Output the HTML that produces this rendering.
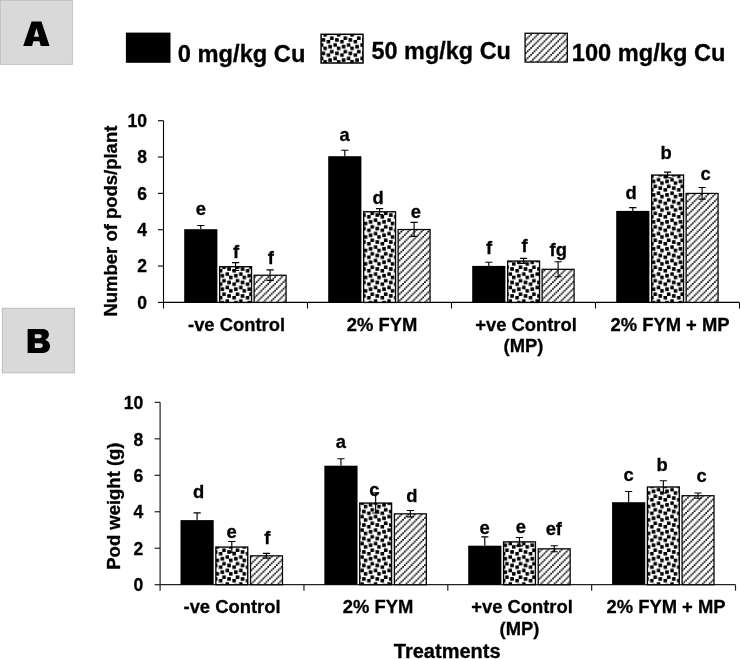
<!DOCTYPE html>
<html><head><meta charset="utf-8"><title>Figure</title>
<style>
html,body{margin:0;padding:0;background:#fff;}
body{width:740px;height:659px;overflow:hidden;}
svg{display:block;will-change:transform;}
text{font-family:"Liberation Sans",sans-serif;font-weight:bold;fill:#000;stroke:#000;stroke-width:0.3px;}
</style></head><body>
<svg width="740" height="659" viewBox="0 0 740 659">
<defs>
<pattern id="dots" patternUnits="userSpaceOnUse" x="0.0" y="-0.5" width="13.475" height="13.475"><rect width="13.475" height="13.475" fill="#fff"/><rect x="3.249" y="-0.120" width="3.609" height="3.609" fill="#000"/><rect x="9.986" y="3.249" width="3.609" height="3.609" fill="#000"/><rect x="4.933" y="4.933" width="3.609" height="3.609" fill="#000"/><rect x="-0.120" y="6.618" width="3.609" height="3.609" fill="#000"/><rect x="6.618" y="9.986" width="3.609" height="3.609" fill="#000"/><rect x="11.671" y="11.671" width="3.609" height="3.609" fill="#000"/><rect x="-1.804" y="11.671" width="3.609" height="3.609" fill="#000"/><rect x="11.671" y="-1.804" width="3.609" height="3.609" fill="#000"/><rect x="-1.804" y="-1.804" width="3.609" height="3.609" fill="#000"/></pattern>
<pattern id="hatch" patternUnits="userSpaceOnUse" x="6.36" y="0.0" width="6.738" height="6.738"><rect width="6.738" height="6.738" fill="#fff"/><rect x="0.000" y="5.053" width="1.684" height="1.684" fill="#000"/><rect x="1.684" y="3.369" width="1.684" height="1.684" fill="#000"/><rect x="3.369" y="1.684" width="1.684" height="1.684" fill="#000"/><rect x="5.053" y="0.000" width="1.684" height="1.684" fill="#000"/></pattern>
</defs>
<rect width="740" height="659" fill="#fff"/>
<rect x="0.4" y="0.4" width="72.0" height="64.0" fill="#d9d9d9" stroke="#bcbcbc" stroke-width="0.9"/>
<path d="M23.2,45.9 L31.6,21.6 L41.4,21.6 L49.6,45.9 L40.7,45.9 L39.5,41.3 L33.3,41.3 L32.1,45.9 Z M33.95,36.75 L39.05,36.75 L36.5,27.9 Z" fill="#000" fill-rule="evenodd"/>
<rect x="2.4" y="308.3" width="72" height="64.5" fill="#d9d9d9" stroke="#bcbcbc" stroke-width="1"/>
<path d="M27.6,329 H42.5 C46.5,329 48.9,331.2 48.9,334.6 C48.9,337.2 47.4,339 45,339.9 C48,340.6 50,342.8 50,346 C50,350.4 46.8,353.1 42,353.1 H27.6 Z M34.8,334.3 V338.3 H39.3 C40.9,338.3 41.7,337.5 41.7,336.3 C41.7,335 40.9,334.3 39.3,334.3 Z M34.8,343.3 V348 H40 C41.8,348 42.8,347.1 42.8,345.6 C42.8,344.1 41.8,343.3 40,343.3 Z" fill="#000" fill-rule="evenodd"/>
<rect x="125.9" y="32.6" width="44.6" height="30.2" fill="#000"/>
<rect x="321.1" y="34.3" width="41.9" height="28.7" fill="url(#dots)" stroke="#000" stroke-width="1.5"/>
<rect x="525.1" y="33.25" width="42.2" height="28.8" fill="url(#hatch)" stroke="#000" stroke-width="1.3"/>
<text transform="translate(177.80,62.00) scale(0.987,1)" font-size="24" text-anchor="start" >0 mg/kg Cu</text>
<text transform="translate(371.50,59.30) scale(0.977,1)" font-size="24" text-anchor="start" >50 mg/kg Cu</text>
<text transform="translate(571.80,60.70) scale(0.985,1)" font-size="24" text-anchor="start" >100 mg/kg Cu</text>
<path d="M163.50,120.70 V302.40 H739.50" stroke="#000" stroke-width="1.1" fill="none"/>
<path d="M158.00,302.40 H163.50" stroke="#000" stroke-width="1.1"/>
<text transform="translate(147.10,308.55) scale(0.94,1)" font-size="18.67" text-anchor="end" >0</text>
<path d="M158.00,266.06 H163.50" stroke="#000" stroke-width="1.1"/>
<text transform="translate(147.10,272.21) scale(0.94,1)" font-size="18.67" text-anchor="end" >2</text>
<path d="M158.00,229.72 H163.50" stroke="#000" stroke-width="1.1"/>
<text transform="translate(147.10,235.87) scale(0.94,1)" font-size="18.67" text-anchor="end" >4</text>
<path d="M158.00,193.38 H163.50" stroke="#000" stroke-width="1.1"/>
<text transform="translate(147.10,199.53) scale(0.94,1)" font-size="18.67" text-anchor="end" >6</text>
<path d="M158.00,157.04 H163.50" stroke="#000" stroke-width="1.1"/>
<text transform="translate(147.10,163.19) scale(0.94,1)" font-size="18.67" text-anchor="end" >8</text>
<path d="M158.00,120.70 H163.50" stroke="#000" stroke-width="1.1"/>
<text transform="translate(147.10,126.85) scale(0.94,1)" font-size="18.67" text-anchor="end" >10</text>
<path d="M163.50,302.40 V308.40" stroke="#000" stroke-width="1.1"/>
<path d="M307.50,302.40 V308.40" stroke="#000" stroke-width="1.1"/>
<path d="M451.50,302.40 V308.40" stroke="#000" stroke-width="1.1"/>
<path d="M595.50,302.40 V308.40" stroke="#000" stroke-width="1.1"/>
<path d="M739.50,302.40 V308.40" stroke="#000" stroke-width="1.1"/>
<rect x="184.20" y="229.20" width="33.2" height="73.20" fill="#000"/>
<path d="M200.80,225.50 V229.20 M197.20,225.50 H204.40" stroke="#000" stroke-width="1.15" fill="none"/>
<text transform="translate(200.80,214.90) scale(0.985,1)" font-size="18.67" text-anchor="middle" >e</text>
<rect x="219.68" y="266.73" width="31.85" height="35.67" fill="url(#dots)" stroke="#000" stroke-width="1.35"/>
<path d="M235.60,262.60 V270.50 M232.00,262.60 H239.20 M232.00,270.50 H239.20" stroke="#000" stroke-width="1.15" fill="none"/>
<text transform="translate(236.10,258.00) scale(0.985,1)" font-size="18.67" text-anchor="middle" >f</text>
<rect x="254.12" y="275.23" width="31.95" height="27.17" fill="url(#hatch)" stroke="#000" stroke-width="1.25"/>
<path d="M270.10,269.90 V280.30 M266.50,269.90 H273.70 M266.50,280.30 H273.70" stroke="#000" stroke-width="1.15" fill="none"/>
<text transform="translate(270.75,264.00) scale(0.985,1)" font-size="18.67" text-anchor="middle" >f</text>
<rect x="328.20" y="156.20" width="33.2" height="146.20" fill="#000"/>
<path d="M344.80,150.20 V156.20 M341.20,150.20 H348.40" stroke="#000" stroke-width="1.15" fill="none"/>
<text transform="translate(344.60,141.10) scale(0.985,1)" font-size="18.67" text-anchor="middle" >a</text>
<rect x="363.68" y="211.78" width="31.85" height="90.62" fill="url(#dots)" stroke="#000" stroke-width="1.35"/>
<path d="M379.60,208.60 V214.60 M376.00,208.60 H383.20 M376.00,214.60 H383.20" stroke="#000" stroke-width="1.15" fill="none"/>
<text transform="translate(378.20,203.60) scale(0.985,1)" font-size="18.67" text-anchor="middle" >d</text>
<rect x="398.12" y="229.53" width="31.95" height="72.87" fill="url(#hatch)" stroke="#000" stroke-width="1.25"/>
<path d="M414.10,222.40 V236.40 M410.50,222.40 H417.70 M410.50,236.40 H417.70" stroke="#000" stroke-width="1.15" fill="none"/>
<text transform="translate(415.80,218.00) scale(0.985,1)" font-size="18.67" text-anchor="middle" >e</text>
<rect x="472.20" y="265.90" width="33.2" height="36.50" fill="#000"/>
<path d="M488.80,262.20 V265.90 M485.20,262.20 H492.40" stroke="#000" stroke-width="1.15" fill="none"/>
<text transform="translate(489.00,254.00) scale(0.985,1)" font-size="18.67" text-anchor="middle" >f</text>
<rect x="507.68" y="261.07" width="31.85" height="41.33" fill="url(#dots)" stroke="#000" stroke-width="1.35"/>
<path d="M523.60,258.40 V263.40 M520.00,258.40 H527.20 M520.00,263.40 H527.20" stroke="#000" stroke-width="1.15" fill="none"/>
<text transform="translate(524.60,252.20) scale(0.985,1)" font-size="18.67" text-anchor="middle" >f</text>
<rect x="542.12" y="269.32" width="31.95" height="33.07" fill="url(#hatch)" stroke="#000" stroke-width="1.25"/>
<path d="M558.10,261.70 V276.70 M554.50,261.70 H561.70 M554.50,276.70 H561.70" stroke="#000" stroke-width="1.15" fill="none"/>
<text transform="translate(558.20,255.60) scale(0.985,1)" font-size="18.67" text-anchor="middle" >fg</text>
<rect x="616.20" y="210.90" width="33.2" height="91.50" fill="#000"/>
<path d="M632.80,207.60 V210.90 M629.20,207.60 H636.40" stroke="#000" stroke-width="1.15" fill="none"/>
<text transform="translate(631.00,198.70) scale(0.985,1)" font-size="18.67" text-anchor="middle" >d</text>
<rect x="651.67" y="175.08" width="31.85" height="127.32" fill="url(#dots)" stroke="#000" stroke-width="1.35"/>
<path d="M667.60,172.10 V177.70 M664.00,172.10 H671.20 M664.00,177.70 H671.20" stroke="#000" stroke-width="1.15" fill="none"/>
<text transform="translate(666.20,159.00) scale(0.985,1)" font-size="18.67" text-anchor="middle" >b</text>
<rect x="686.12" y="193.43" width="31.95" height="108.97" fill="url(#hatch)" stroke="#000" stroke-width="1.25"/>
<path d="M702.10,187.50 V199.10 M698.50,187.50 H705.70 M698.50,199.10 H705.70" stroke="#000" stroke-width="1.15" fill="none"/>
<text transform="translate(705.70,180.10) scale(0.985,1)" font-size="18.67" text-anchor="middle" >c</text>
<text transform="translate(117.00,221.10) rotate(-90) scale(0.99,1)" font-size="18.67" text-anchor="middle">Number of pods/plant</text>
<text transform="translate(236.50,330.60) scale(0.985,1)" font-size="18.67" text-anchor="middle" >-ve Control</text>
<text transform="translate(382.00,330.60) scale(0.985,1)" font-size="18.67" text-anchor="middle" >2% FYM</text>
<text transform="translate(526.00,330.60) scale(0.985,1)" font-size="18.67" text-anchor="middle" >+ve Control</text>
<text transform="translate(670.00,330.60) scale(0.985,1)" font-size="18.67" text-anchor="middle" >2% FYM + MP</text>
<text transform="translate(523.50,352.00) scale(0.985,1)" font-size="18.67" text-anchor="middle" >(MP)</text>
<path d="M160.10,402.35 V584.70 H735.50" stroke="#222" stroke-width="1.2" fill="none"/>
<path d="M154.60,584.70 H160.10" stroke="#222" stroke-width="1.2"/>
<text transform="translate(143.30,591.40) scale(0.94,1)" font-size="18.67" text-anchor="end" >0</text>
<path d="M154.60,548.23 H160.10" stroke="#222" stroke-width="1.2"/>
<text transform="translate(143.30,554.93) scale(0.94,1)" font-size="18.67" text-anchor="end" >2</text>
<path d="M154.60,511.76 H160.10" stroke="#222" stroke-width="1.2"/>
<text transform="translate(143.30,518.46) scale(0.94,1)" font-size="18.67" text-anchor="end" >4</text>
<path d="M154.60,475.29 H160.10" stroke="#222" stroke-width="1.2"/>
<text transform="translate(143.30,481.99) scale(0.94,1)" font-size="18.67" text-anchor="end" >6</text>
<path d="M154.60,438.82 H160.10" stroke="#222" stroke-width="1.2"/>
<text transform="translate(143.30,445.52) scale(0.94,1)" font-size="18.67" text-anchor="end" >8</text>
<path d="M154.60,402.35 H160.10" stroke="#222" stroke-width="1.2"/>
<text transform="translate(143.30,409.05) scale(0.94,1)" font-size="18.67" text-anchor="end" >10</text>
<path d="M160.10,584.70 V590.70" stroke="#222" stroke-width="1.2"/>
<path d="M303.95,584.70 V590.70" stroke="#222" stroke-width="1.2"/>
<path d="M447.80,584.70 V590.70" stroke="#222" stroke-width="1.2"/>
<path d="M591.65,584.70 V590.70" stroke="#222" stroke-width="1.2"/>
<path d="M735.50,584.70 V590.70" stroke="#222" stroke-width="1.2"/>
<rect x="180.50" y="520.10" width="33.2" height="64.60" fill="#000"/>
<path d="M197.10,512.90 V520.10 M193.50,512.90 H200.70" stroke="#000" stroke-width="1.15" fill="none"/>
<text transform="translate(198.50,498.40) scale(0.985,1)" font-size="18.67" text-anchor="middle" >d</text>
<rect x="215.88" y="547.07" width="31.85" height="37.63" fill="url(#dots)" stroke="#000" stroke-width="1.35"/>
<path d="M231.80,541.50 V552.30 M228.20,541.50 H235.40 M228.20,552.30 H235.40" stroke="#000" stroke-width="1.15" fill="none"/>
<text transform="translate(231.70,538.10) scale(0.985,1)" font-size="18.67" text-anchor="middle" >e</text>
<rect x="250.52" y="555.83" width="31.95" height="28.88" fill="url(#hatch)" stroke="#000" stroke-width="1.25"/>
<path d="M266.50,553.35 V558.05 M262.90,553.35 H270.10 M262.90,558.05 H270.10" stroke="#000" stroke-width="1.15" fill="none"/>
<text transform="translate(267.20,544.20) scale(0.985,1)" font-size="18.67" text-anchor="middle" >f</text>
<rect x="324.35" y="465.70" width="33.2" height="119.00" fill="#000"/>
<path d="M340.95,458.70 V465.70 M337.35,458.70 H344.55" stroke="#000" stroke-width="1.15" fill="none"/>
<text transform="translate(340.90,447.80) scale(0.985,1)" font-size="18.67" text-anchor="middle" >a</text>
<rect x="359.73" y="503.07" width="31.85" height="81.63" fill="url(#dots)" stroke="#000" stroke-width="1.35"/>
<path d="M375.65,492.80 V513.00 M372.05,492.80 H379.25 M372.05,513.00 H379.25" stroke="#000" stroke-width="1.15" fill="none"/>
<text transform="translate(374.30,495.60) scale(0.985,1)" font-size="18.67" text-anchor="middle" >c</text>
<rect x="394.38" y="513.83" width="31.95" height="70.88" fill="url(#hatch)" stroke="#000" stroke-width="1.25"/>
<path d="M410.35,510.50 V516.90 M406.75,510.50 H413.95 M406.75,516.90 H413.95" stroke="#000" stroke-width="1.15" fill="none"/>
<text transform="translate(411.80,502.10) scale(0.985,1)" font-size="18.67" text-anchor="middle" >d</text>
<rect x="468.20" y="545.70" width="33.2" height="39.00" fill="#000"/>
<path d="M484.80,536.80 V545.70 M481.20,536.80 H488.40" stroke="#000" stroke-width="1.15" fill="none"/>
<text transform="translate(484.70,534.00) scale(0.985,1)" font-size="18.67" text-anchor="middle" >e</text>
<rect x="503.57" y="541.88" width="31.85" height="42.83" fill="url(#dots)" stroke="#000" stroke-width="1.35"/>
<path d="M519.50,537.50 V545.90 M515.90,537.50 H523.10 M515.90,545.90 H523.10" stroke="#000" stroke-width="1.15" fill="none"/>
<text transform="translate(520.90,533.00) scale(0.985,1)" font-size="18.67" text-anchor="middle" >e</text>
<rect x="538.22" y="548.83" width="31.95" height="35.88" fill="url(#hatch)" stroke="#000" stroke-width="1.25"/>
<path d="M554.20,545.70 V551.70 M550.60,545.70 H557.80 M550.60,551.70 H557.80" stroke="#000" stroke-width="1.15" fill="none"/>
<text transform="translate(553.80,535.30) scale(0.985,1)" font-size="18.67" text-anchor="middle" >ef</text>
<rect x="612.05" y="502.20" width="33.2" height="82.50" fill="#000"/>
<path d="M628.65,491.50 V502.20 M625.05,491.50 H632.25" stroke="#000" stroke-width="1.15" fill="none"/>
<text transform="translate(628.70,480.70) scale(0.985,1)" font-size="18.67" text-anchor="middle" >c</text>
<rect x="647.42" y="486.98" width="31.85" height="97.73" fill="url(#dots)" stroke="#000" stroke-width="1.35"/>
<path d="M663.35,480.70 V492.90 M659.75,480.70 H666.95 M659.75,492.90 H666.95" stroke="#000" stroke-width="1.15" fill="none"/>
<text transform="translate(662.00,471.00) scale(0.985,1)" font-size="18.67" text-anchor="middle" >b</text>
<rect x="682.07" y="495.73" width="31.95" height="88.98" fill="url(#hatch)" stroke="#000" stroke-width="1.25"/>
<path d="M698.05,493.00 V498.20 M694.45,493.00 H701.65 M694.45,498.20 H701.65" stroke="#000" stroke-width="1.15" fill="none"/>
<text transform="translate(701.50,482.20) scale(0.985,1)" font-size="18.67" text-anchor="middle" >c</text>
<text transform="translate(120.00,506.10) rotate(-90) scale(0.99,1)" font-size="18.67" text-anchor="middle">Pod weight (g)</text>
<text transform="translate(232.00,613.00) scale(0.985,1)" font-size="18.67" text-anchor="middle" >-ve Control</text>
<text transform="translate(378.00,613.00) scale(0.985,1)" font-size="18.67" text-anchor="middle" >2% FYM</text>
<text transform="translate(522.00,613.00) scale(0.985,1)" font-size="18.67" text-anchor="middle" >+ve Control</text>
<text transform="translate(666.00,613.00) scale(0.985,1)" font-size="18.67" text-anchor="middle" >2% FYM + MP</text>
<text transform="translate(519.50,634.50) scale(0.985,1)" font-size="18.67" text-anchor="middle" >(MP)</text>
<text x="447.20" y="657.80" font-size="20" text-anchor="middle" >Treatments</text>
</svg></body></html>
